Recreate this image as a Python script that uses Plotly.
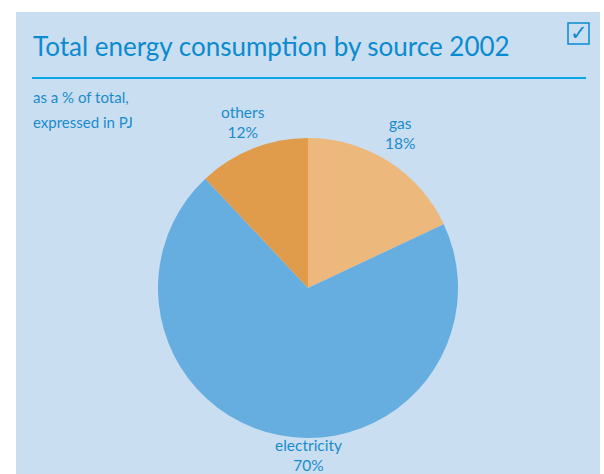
import plotly.graph_objects as go

# Energy sources and their share of total consumption (%)
sources = ["gas", "electricity", "others"]
shares = [18, 70, 12]
slice_colors = ["#edb87b", "#66aee0", "#e09c4b"]

title_text = "Total energy consumption by source 2002"
subtitle_lines = ["as a % of total,", "expressed in PJ"]

W, H = 604, 474
TEXT_BLUE = "#1a8ccb"
PANEL = "#c9def1"
FONT = "Lato"


def px(x):
    return x / W


def py(y):
    return 1 - y / H


fig = go.Figure()

# pie centred at (308, 288) with radius 150 px
cx, cy, r = 308, 288, 150
fig.add_trace(go.Pie(
    labels=sources,
    values=shares,
    sort=False,
    direction="clockwise",
    rotation=0,
    marker=dict(colors=slice_colors, line=dict(width=0)),
    textinfo="none",
    hoverinfo="label+percent",
    showlegend=False,
    domain=dict(x=[px(cx - r), px(cx + r)], y=[py(cy + r), py(cy - r)]),
))

# slice labels placed around the pie
label_pos = {"gas": (400, 133), "others": (243, 122), "electricity": (308, 455)}
annotations = []
for name, val in zip(sources, shares):
    x, y = label_pos[name]
    annotations.append(dict(
        x=px(x), y=py(y), xref="paper", yref="paper",
        text=f"{name}<br>{val}%", showarrow=False,
        xanchor="center", yanchor="middle", align="center",
        font=dict(family=FONT, size=15.5, color=TEXT_BLUE),
    ))

# title and subtitle
annotations.append(dict(
    x=px(31), y=py(46), xref="paper", yref="paper", text=title_text,
    showarrow=False, xanchor="left", yanchor="middle",
    font=dict(family=FONT, size=26, color="#0a8bcf"),
))
for i, line in enumerate(subtitle_lines):
    annotations.append(dict(
        x=px(31), y=py(97 + 25 * i), xref="paper", yref="paper", text=line,
        showarrow=False, xanchor="left", yanchor="middle",
        font=dict(family=FONT, size=15, color=TEXT_BLUE),
    ))

# check mark inside the box at the top right
annotations.append(dict(
    x=px(579), y=py(33), xref="paper", yref="paper", text="<b>✓</b>",
    showarrow=False, xanchor="center", yanchor="middle",
    font=dict(family="DejaVu Sans", size=21, color="#0a8bcf"),
))

shapes = [
    dict(type="rect", xref="paper", yref="paper", layer="below",
         x0=px(16), x1=px(600), y0=py(474), y1=py(12),
         fillcolor=PANEL, line=dict(width=0)),
    dict(type="line", xref="paper", yref="paper",
         x0=px(32), x1=px(586), y0=py(78), y1=py(78),
         line=dict(color="#0aa5e6", width=2)),
    dict(type="rect", xref="paper", yref="paper",
         x0=px(568), x1=px(589), y0=py(44), y1=py(23),
         fillcolor="rgba(0,0,0,0)", line=dict(color="#0a8bcf", width=1.5)),
]

fig.update_layout(
    width=W, height=H,
    margin=dict(l=0, r=0, t=0, b=0),
    paper_bgcolor="white",
    plot_bgcolor="white",
    annotations=annotations,
    shapes=shapes,
)

fig.write_html("out.html")
